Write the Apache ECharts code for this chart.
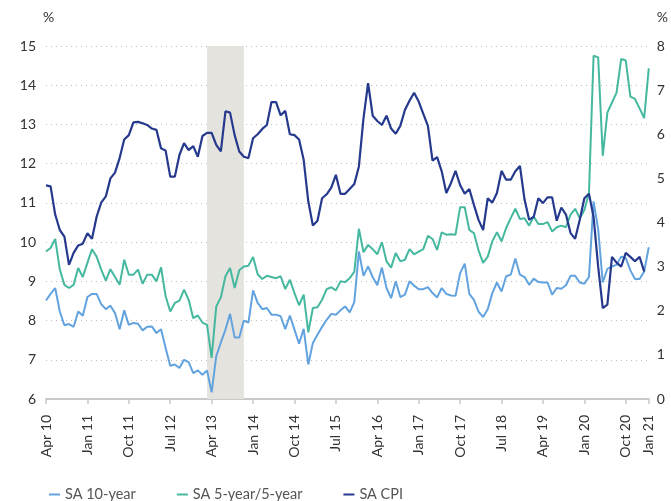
<!DOCTYPE html>
<html>
<head>
<meta charset="utf-8">
<script src="https://cdn.jsdelivr.net/npm/echarts@6/dist/echarts.min.js"></script>
<style>
  html, body { margin: 0; padding: 0; background: #fff; }
  #chart { width: 671px; height: 501px; }
</style>
</head>
<body>
<div id="chart"></div>
<script>
// monthly, Apr 10 onwards
var monthNames = ['Jan','Feb','Mar','Apr','May','Jun','Jul','Aug','Sep','Oct','Nov','Dec'];
var tickLabels = ['Apr 10','Jan 11','Oct 11','Jul 12','Apr 13','Jan 14','Oct 14','Jul 15',
                  'Apr 16','Jan 17','Oct 17','Jul 18','Apr 19','Jan 20','Oct 20','Jan 21'];

// SA 10-year (%), left axis
var tenYear = [
  8.51,8.68,8.83,8.23,7.88,7.91,7.84,8.23,8.12,8.60,
  8.68,8.68,8.42,8.29,8.38,8.19,7.78,8.26,7.89,7.94,
  7.92,7.75,7.84,7.85,7.68,7.78,7.30,6.85,6.88,6.79,
  7.00,6.94,6.66,6.73,6.62,6.73,6.17,7.09,7.44,7.77,
  8.17,7.57,7.57,8.00,7.95,8.77,8.45,8.29,8.32,8.15,
  8.15,8.11,7.78,8.13,7.77,7.41,7.79,6.88,7.43,7.64,
  7.84,8.02,8.17,8.15,8.26,8.36,8.21,8.47,9.76,9.14,
  9.38,9.11,8.90,9.35,8.83,8.57,9.00,8.60,8.66,9.00,
  8.89,8.80,8.80,8.85,8.70,8.59,8.83,8.68,8.64,8.63,
  9.21,9.45,8.68,8.53,8.23,8.09,8.29,8.70,8.97,8.74,
  9.13,9.17,9.58,9.17,9.11,8.91,9.07,8.98,8.97,8.97,
  8.66,8.83,8.81,8.90,9.14,9.14,8.97,8.94,9.11,11.04,
  10.33,8.97,9.32,9.38,9.42,9.63,9.59,9.28,9.06,9.06,
  9.25,9.87
];

// SA 5-year/5-year (%), left axis
var fiveFive = [
  9.76,9.85,10.08,9.30,8.91,8.83,8.91,9.34,9.11,9.47,
  9.82,9.63,9.30,9.02,9.31,9.11,8.91,9.55,9.17,9.17,
  9.30,8.94,9.17,9.17,9.00,9.36,8.62,8.23,8.45,8.51,
  8.79,8.53,8.06,8.13,7.95,7.89,7.05,8.36,8.59,9.13,
  9.34,8.83,9.28,9.38,9.40,9.62,9.18,9.06,9.14,9.11,
  9.08,9.13,8.80,9.04,8.70,8.39,8.66,7.70,8.32,8.34,
  8.53,8.80,8.85,8.77,9.00,8.98,9.08,9.24,10.34,9.74,
  9.93,9.82,9.69,10.00,9.51,9.35,9.72,9.51,9.55,9.82,
  9.69,9.76,9.82,10.16,10.08,9.80,10.25,10.19,10.20,10.19,
  10.89,10.89,10.31,10.23,9.79,9.47,9.63,10.02,10.25,10.02,
  10.36,10.61,10.85,10.59,10.61,10.42,10.65,10.46,10.46,10.51,
  10.27,10.38,10.42,10.38,10.70,10.85,10.61,10.82,11.25,14.75,
  14.71,12.20,13.30,13.56,13.81,14.67,14.63,13.71,13.65,13.41,
  13.16,14.43
];

// SA CPI (% y/y), right axis
var cpi = [
  4.84,4.82,4.18,3.83,3.68,3.04,3.31,3.48,3.52,3.76,
  3.63,4.13,4.45,4.59,5.00,5.13,5.46,5.88,5.98,6.27,
  6.28,6.25,6.21,6.13,6.10,5.68,5.63,5.04,5.04,5.53,
  5.80,5.64,5.73,5.49,5.96,6.03,6.03,5.76,5.61,6.52,
  6.49,5.98,5.61,5.49,5.46,5.91,6.00,6.12,6.21,6.73,
  6.73,6.43,6.53,6.00,5.98,5.88,5.42,4.48,3.93,4.04,
  4.55,4.64,4.79,5.08,4.65,4.65,4.76,4.87,5.27,6.36,
  7.16,6.42,6.30,6.21,6.42,6.13,6.01,6.19,6.55,6.76,
  6.94,6.74,6.46,6.19,5.40,5.48,5.16,4.67,4.89,5.17,
  4.85,4.65,4.76,4.40,4.06,3.83,4.55,4.45,4.67,5.17,
  4.97,4.97,5.16,5.28,4.52,4.06,4.13,4.55,4.44,4.57,
  4.57,4.04,4.34,4.18,3.76,3.63,4.06,4.55,4.65,4.13,
  3.00,2.06,2.14,3.22,3.09,3.00,3.31,3.22,3.12,3.22,
  2.89,null
];

// shaded period
var shadeStart = 'Mar 13';
var shadeEnd = 'Nov 13';

var months = [];
for (var i = 0; i < tenYear.length; i++) {
  var m = (3 + i) % 12;
  var y = 10 + Math.floor((3 + i) / 12);
  months.push(monthNames[m] + ' ' + (y < 10 ? '0' + y : y));
}
var lastIdx = months.length - 1;

var showTick = function (idx) {
  return idx % 9 === 0 || idx === lastIdx;
};

var font = 'Lato, "Noto Sans", sans-serif';
var chart = echarts.init(document.getElementById('chart'));

chart.setOption({
  animation: false,
  textStyle: { fontFamily: font },
  grid: { left: 46, right: 19, top: 46, bottom: 102 },
  legend: {
    left: 44,
    top: 482,
    icon: 'rect',
    itemWidth: 11,
    itemHeight: 2,
    itemGap: 41,
    textStyle: { fontSize: 14.5, color: '#555', fontFamily: font },
    data: ['SA 10-year', 'SA 5-year/5-year', 'SA CPI']
  },
  xAxis: {
    type: 'category',
    data: months,
    boundaryGap: false,
    axisLine: { lineStyle: { color: '#c9c9c9', width: 2 } },
    axisTick: { interval: showTick, length: 5, lineStyle: { color: '#c9c9c9', width: 1.5 } },
    axisLabel: {
      interval: showTick,
      rotate: 90,
      margin: 16,
      fontSize: 14,
      color: '#333',
      formatter: function (val, idx) {
        return idx === lastIdx ? tickLabels[tickLabels.length - 1] : tickLabels[idx / 9];
      }
    },
    splitLine: { show: false }
  },
  yAxis: [
    {
      type: 'value',
      min: 6, max: 15, interval: 1,
      name: '%',
      nameGap: 22,
      nameTextStyle: { align: 'left', fontSize: 14, color: '#333', padding: [0, 0, 0, -3] },
      axisLine: { show: false },
      axisTick: { show: false },
      axisLabel: { margin: 10, fontSize: 14, color: '#333' },
      splitLine: { lineStyle: { color: '#bdbdbd', type: [1, 4], width: 1 } }
    },
    {
      type: 'value',
      min: 0, max: 8, interval: 1,
      position: 'right',
      name: '%',
      nameGap: 22,
      nameTextStyle: { align: 'left', fontSize: 14, color: '#333', padding: [0, 0, 0, 8] },
      axisLine: { show: false },
      axisTick: { show: false },
      axisLabel: { margin: 8, fontSize: 14, color: '#333' },
      splitLine: { show: false }
    }
  ],
  series: [
    {
      name: 'SA 10-year',
      type: 'line',
      data: tenYear,
      yAxisIndex: 0,
      symbol: 'none',
      color: '#62a3df',
      lineStyle: { width: 2 },
      markArea: {
        silent: true,
        itemStyle: { color: '#e4e3dd' },
        data: [[{ xAxis: shadeStart }, { xAxis: shadeEnd }]]
      },
      z: 2
    },
    {
      name: 'SA 5-year/5-year',
      type: 'line',
      data: fiveFive,
      yAxisIndex: 0,
      symbol: 'none',
      color: '#45b89f',
      lineStyle: { width: 2 },
      z: 3
    },
    {
      name: 'SA CPI',
      type: 'line',
      data: cpi,
      yAxisIndex: 1,
      symbol: 'none',
      color: '#25398d',
      lineStyle: { width: 2.2 },
      z: 4
    }
  ]
});
</script>
</body>
</html>
